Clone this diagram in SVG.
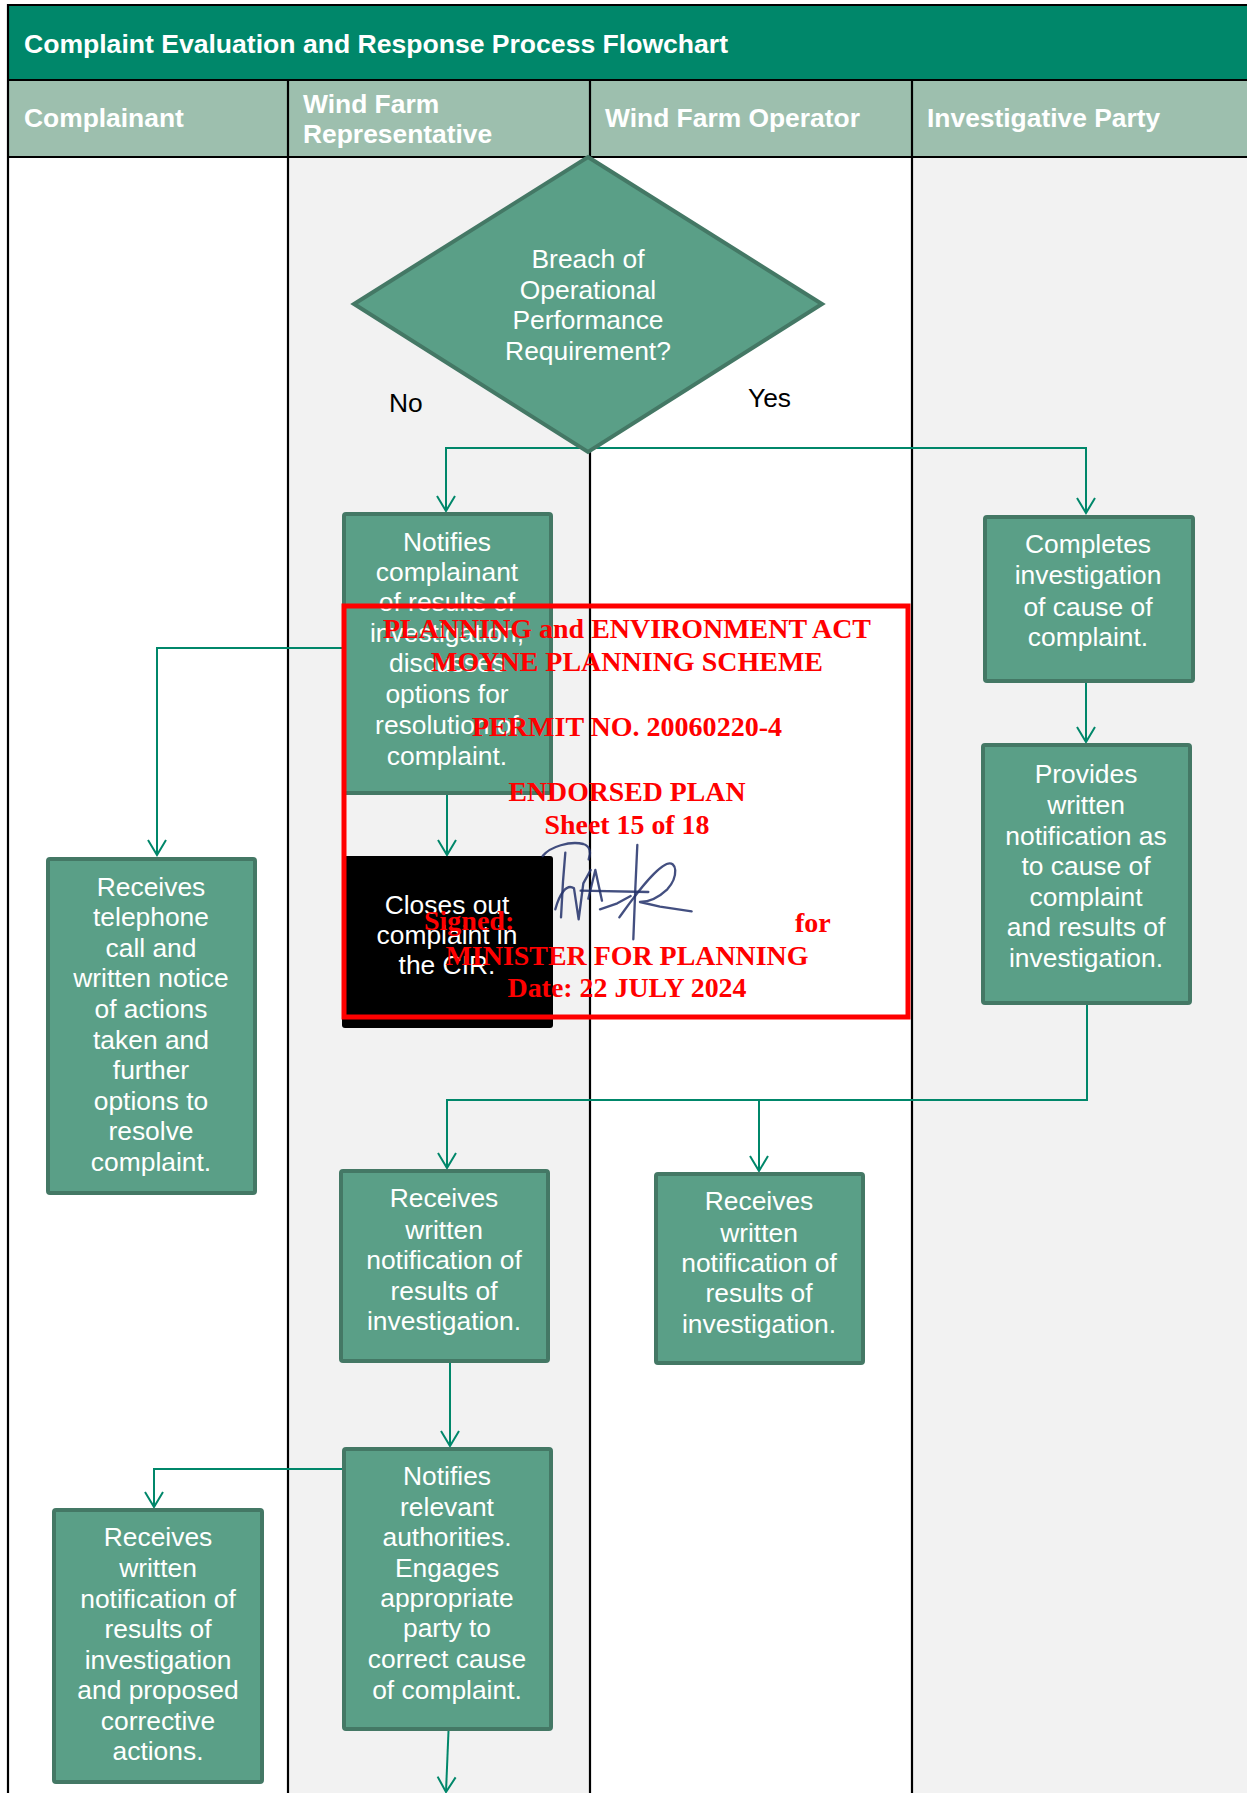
<svg xmlns="http://www.w3.org/2000/svg" width="1247" height="1793" viewBox="0 0 1247 1793">
<style>
.lane{stroke:#000;stroke-width:2.2;fill:none}
.hdr{font-family:"Liberation Sans",Arial,sans-serif;font-weight:bold;font-size:26.4px;fill:#fff}
.box{fill:#5A9F87;stroke:#447865;stroke-width:4}
.t{font-family:"Liberation Sans",Arial,sans-serif;font-size:26.4px;fill:#fff;text-anchor:middle}
.lbl{font-family:"Liberation Sans",Arial,sans-serif;font-size:26.4px;fill:#000}
.con{fill:none;stroke:#00876A;stroke-width:2}
.st{font-family:"Liberation Serif","Times New Roman",serif;font-weight:bold;font-size:28px;fill:#FF0000}
.sig{fill:none;stroke:#22306A;stroke-width:7;stroke-linecap:round;stroke-linejoin:round;opacity:0.85}
</style>
<defs>
<marker id="arr" markerUnits="userSpaceOnUse" viewBox="-17 -11 19 22" refX="0" refY="0" markerWidth="19" markerHeight="22" orient="auto">
<path d="M-15,-9 L0,0 L-15,9" fill="none" stroke="#00876A" stroke-width="2"/>
</marker>
</defs>
<rect width="1247" height="1793" fill="#fff"/>
<g id="lanes">
<rect x="288" y="157" width="302" height="1636" fill="#F2F2F2"/>
<rect x="912" y="157" width="335" height="1636" fill="#F2F2F2"/>
<rect x="8" y="5" width="1240" height="75" fill="#00876A"/>
<rect x="8" y="80" width="1240" height="77" fill="#9DBFAE"/>
<path class="lane" d="M7,5 H1247 M8,4 V1793 M8,80 H1247 M8,157 H1247 M288,80 V1793 M590,80 V1793 M912,80 V1793"/>
<text class="hdr" x="24" y="53" font-size="26.6" textLength="704" lengthAdjust="spacingAndGlyphs">Complaint Evaluation and Response Process Flowchart</text>
<text class="hdr" x="24" y="127">Complainant</text>
<text class="hdr" x="303" y="113">Wind Farm</text>
<text class="hdr" x="303" y="143">Representative</text>
<text class="hdr" x="605" y="127">Wind Farm Operator</text>
<text class="hdr" x="927" y="127">Investigative Party</text>
</g>
<g id="connectors">
<path class="con" d="M588,448 H446 V511" marker-end="url(#arr)"/>
<path class="con" d="M588,448 H1086 V513" marker-end="url(#arr)"/>
<path class="con" d="M447,795 V855" marker-end="url(#arr)"/>
<path class="con" d="M342,648 H157 V855" marker-end="url(#arr)"/>
<path class="con" d="M1086,683 V742" marker-end="url(#arr)"/>
<path class="con" d="M1087,1005 V1100 H447 V1168" marker-end="url(#arr)"/>
<path class="con" d="M759,1100 V1171" marker-end="url(#arr)"/>
<path class="con" d="M450,1363 V1446" marker-end="url(#arr)"/>
<path class="con" d="M342,1469 H154 V1507" marker-end="url(#arr)"/>
<path class="con" d="M448.5,1731 L446,1792" marker-end="url(#arr)"/>
</g>
<g id="decision">
<polygon class="box" points="588,157 822,304 588,452 354,304"/>
<text class="t"><tspan x="588" y="268">Breach of</tspan><tspan x="588" y="298.5">Operational</tspan><tspan x="588" y="329">Performance</tspan><tspan x="588" y="359.5">Requirement?</tspan></text>
</g>
<g id="label-no"><text class="lbl" x="389" y="412">No</text></g>
<g id="label-yes"><text class="lbl" x="748" y="407">Yes</text></g>
<g id="notify-complainant">
<rect class="box" x="344" y="514" width="207" height="279" rx="2"/>
<text class="t"><tspan x="447" y="551">Notifies</tspan><tspan x="447" y="581">complainant</tspan><tspan x="447" y="611">of results of</tspan><tspan x="447" y="641.5">investigation,</tspan><tspan x="447" y="672">discusses</tspan><tspan x="447" y="703">options for</tspan><tspan x="447" y="734">resolution of</tspan><tspan x="447" y="764.5">complaint.</tspan></text>
</g>
<g id="closes-out">
<rect x="342" y="856" width="211" height="172" rx="3" fill="#000"/>
<text class="t"><tspan x="447" y="913.5">Closes out</tspan><tspan x="447" y="944">complaint in</tspan><tspan x="447" y="974">the CIR.</tspan></text>
</g>
<g id="receives-telephone">
<rect class="box" x="48" y="859" width="207" height="334" rx="2"/>
<text class="t"><tspan x="151" y="895.5">Receives</tspan><tspan x="151" y="926">telephone</tspan><tspan x="151" y="956.7">call and</tspan><tspan x="151" y="987.3">written notice</tspan><tspan x="151" y="1018">of actions</tspan><tspan x="151" y="1048.5">taken and</tspan><tspan x="151" y="1079">further</tspan><tspan x="151" y="1109.7">options to</tspan><tspan x="151" y="1140.3">resolve</tspan><tspan x="151" y="1171">complaint.</tspan></text>
</g>
<g id="completes-investigation">
<rect class="box" x="985" y="517" width="208" height="164" rx="2"/>
<text class="t"><tspan x="1088" y="553">Completes</tspan><tspan x="1088" y="584">investigation</tspan><tspan x="1088" y="615.5">of cause of</tspan><tspan x="1088" y="646">complaint.</tspan></text>
</g>
<g id="provides-notification">
<rect class="box" x="983" y="745" width="207" height="258" rx="2"/>
<text class="t"><tspan x="1086" y="783">Provides</tspan><tspan x="1086" y="814">written</tspan><tspan x="1086" y="845">notification as</tspan><tspan x="1086" y="875">to cause of</tspan><tspan x="1086" y="905.5">complaint</tspan><tspan x="1086" y="936">and results of</tspan><tspan x="1086" y="966.5">investigation.</tspan></text>
</g>
<g id="receives-wfr">
<rect class="box" x="341" y="1171" width="207" height="190" rx="2"/>
<text class="t"><tspan x="444" y="1207">Receives</tspan><tspan x="444" y="1238.5">written</tspan><tspan x="444" y="1269">notification of</tspan><tspan x="444" y="1299.5">results of</tspan><tspan x="444" y="1330">investigation.</tspan></text>
</g>
<g id="receives-operator">
<rect class="box" x="656" y="1174" width="207" height="189" rx="2"/>
<text class="t"><tspan x="759" y="1210">Receives</tspan><tspan x="759" y="1241.5">written</tspan><tspan x="759" y="1272">notification of</tspan><tspan x="759" y="1302">results of</tspan><tspan x="759" y="1332.5">investigation.</tspan></text>
</g>
<g id="notifies-authorities">
<rect class="box" x="344" y="1449" width="207" height="280" rx="2"/>
<text class="t"><tspan x="447" y="1485">Notifies</tspan><tspan x="447" y="1515.5">relevant</tspan><tspan x="447" y="1546">authorities.</tspan><tspan x="447" y="1576.5">Engages</tspan><tspan x="447" y="1607">appropriate</tspan><tspan x="447" y="1637">party to</tspan><tspan x="447" y="1668">correct cause</tspan><tspan x="447" y="1699">of complaint.</tspan></text>
</g>
<g id="receives-corrective">
<rect class="box" x="54" y="1510" width="208" height="272" rx="2"/>
<text class="t"><tspan x="158" y="1546">Receives</tspan><tspan x="158" y="1577">written</tspan><tspan x="158" y="1607.5">notification of</tspan><tspan x="158" y="1638">results of</tspan><tspan x="158" y="1668.5">investigation</tspan><tspan x="158" y="1699">and proposed</tspan><tspan x="158" y="1729.5">corrective</tspan><tspan x="158" y="1760">actions.</tspan></text>
</g>
<g id="stamp">
<rect x="344" y="606" width="564" height="411" fill="none" stroke="#FF0000" stroke-width="5"/>
<g transform="translate(520,820) scale(0.3333)">
<path class="sig" d="M68,108 C90,80 150,62 190,72 C210,78 214,98 206,118"/>
<path class="sig" d="M136,98 L129,185 L123,292"/>
<path class="sig" d="M106,268 C118,222 140,190 162,205 L176,298 L190,190 L212,150"/>
<path class="sig" d="M205,236 L226,150 L246,242"/>
<path class="sig" d="M182,212 L385,216"/>
<path class="sig" d="M240,268 L292,250 L332,228"/>
<path class="sig" d="M352,75 L346,205 L340,358"/>
<path class="sig" d="M298,292 C330,248 398,150 440,132 C472,120 476,170 442,208 C412,236 380,246 360,246 L420,260 L515,274"/>
</g>
<text class="st" x="627" y="638" text-anchor="middle" textLength="488" lengthAdjust="spacingAndGlyphs">PLANNING and ENVIRONMENT ACT</text>
<text class="st" x="627" y="670.5" text-anchor="middle" textLength="392" lengthAdjust="spacingAndGlyphs">MOYNE PLANNING SCHEME</text>
<text class="st" x="627" y="736" text-anchor="middle" textLength="310" lengthAdjust="spacingAndGlyphs">PERMIT NO. 20060220-4</text>
<text class="st" x="627" y="801" text-anchor="middle" textLength="237" lengthAdjust="spacingAndGlyphs">ENDORSED PLAN</text>
<text class="st" x="627" y="834" text-anchor="middle" textLength="165" lengthAdjust="spacingAndGlyphs">Sheet 15 of 18</text>
<text class="st" x="424" y="930">Signed:</text>
<text class="st" x="795" y="932">for</text>
<text class="st" x="627" y="965" text-anchor="middle" textLength="363" lengthAdjust="spacingAndGlyphs">MINISTER FOR PLANNING</text>
<text class="st" x="627" y="997" text-anchor="middle" textLength="239" lengthAdjust="spacingAndGlyphs">Date: 22 JULY 2024</text>
</g>
</svg>
